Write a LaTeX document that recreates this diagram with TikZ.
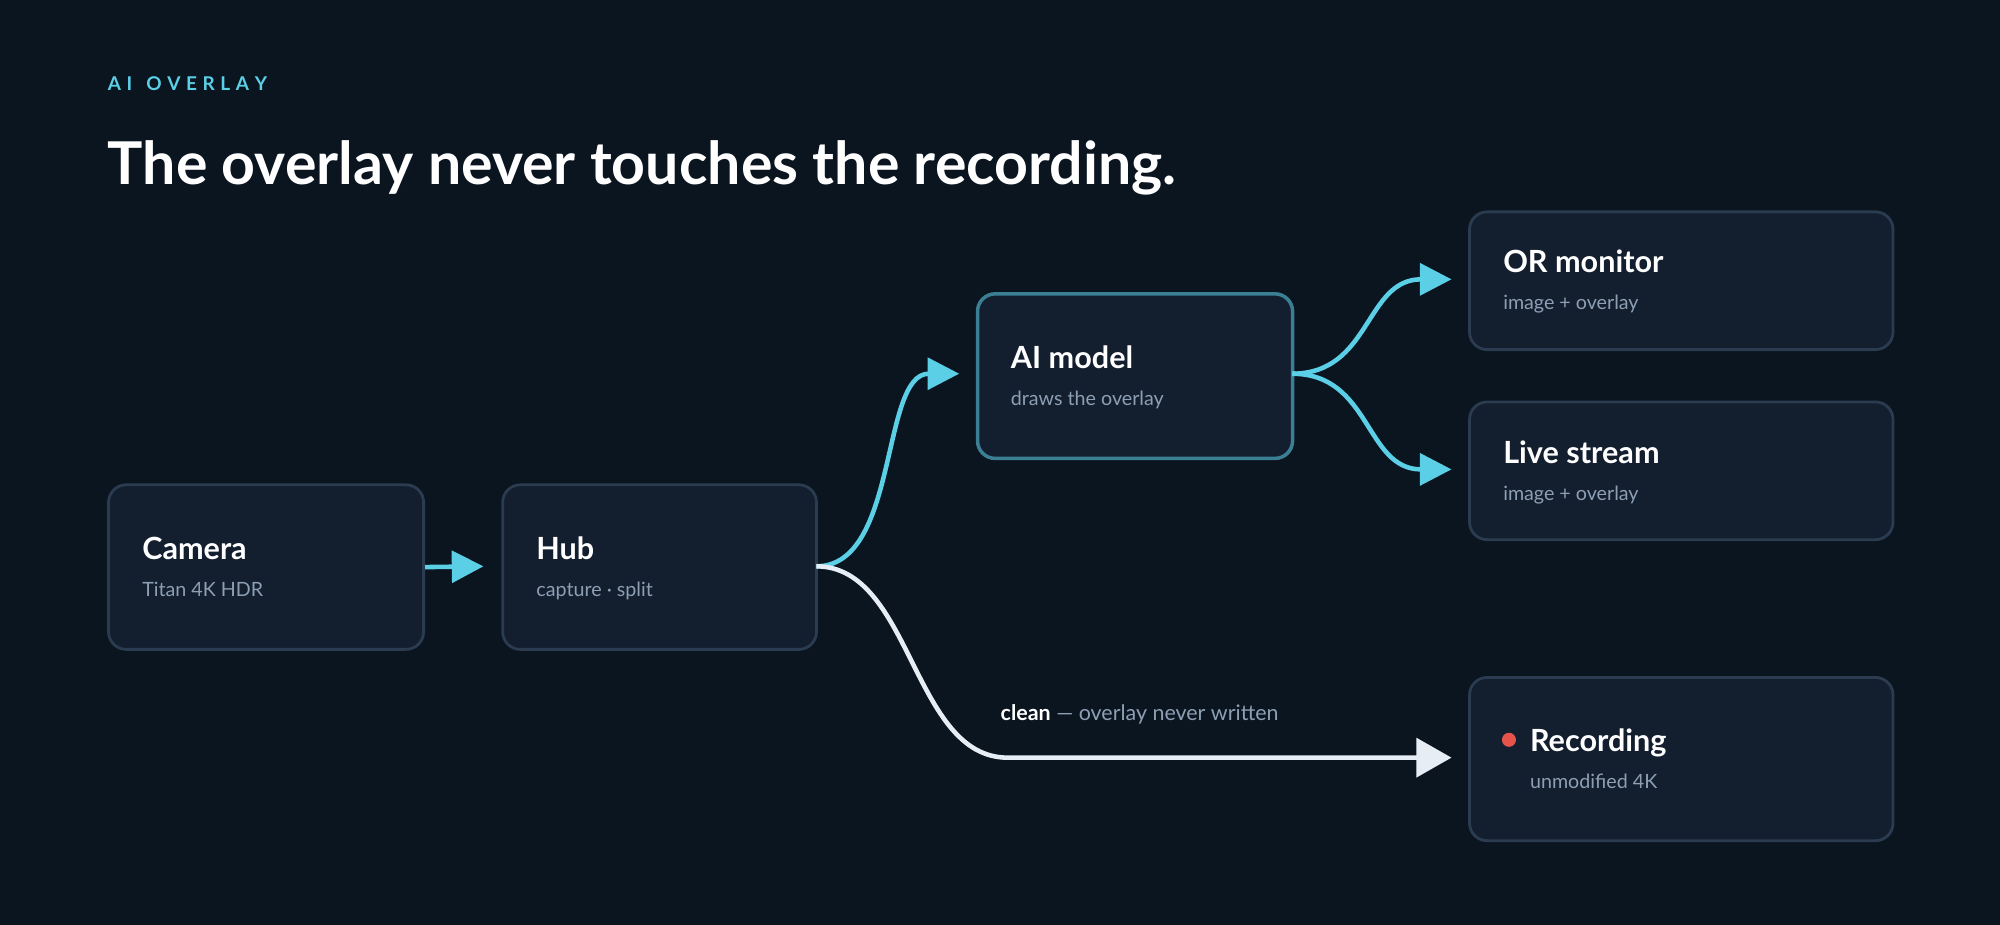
\documentclass[tikz,border=0pt]{standalone}
\usepackage{fontspec}
\setmainfont{Lato}
\usetikzlibrary{arrows.meta}
\definecolor{bgc}{HTML}{0B1520}
\definecolor{boxc}{HTML}{131E2F}
\definecolor{linec}{HTML}{2B3B50}
\definecolor{cyanc}{HTML}{5BCFE6}
\definecolor{subc}{HTML}{8E9FB4}
\definecolor{whitec}{HTML}{E6EDF5}
\definecolor{redc}{HTML}{E5534B}
\tikzset{
  card/.style={draw=linec,fill=boxc,line width=0.8pt,rounded corners=5pt,anchor=north west},
  head/.style={anchor=base west,text=white,font=\bfseries\fontsize{8.7pt}{10pt}\selectfont,inner sep=0},
  sub/.style={anchor=base west,text=subc,font=\fontsize{5.6pt}{7pt}\selectfont,inner sep=0},
  flow/.style={cyanc,line width=1.3pt,-{Triangle[length=9pt,width=9pt]}},
  clean/.style={whitec,line width=1.3pt,-{Triangle[length=10pt,width=11pt]}}
}
\newcommand{\cardbox}[7]{% name, x, y, w, h, title, subtitle
  \node[card,minimum width=#4*0.012755cm,minimum height=#5*0.012755cm] (#1) at (#2,#3) {};
  \node[head] (#1-t) at (#2+27,#3+#5/2-5) {#6};
  \node[sub] (#1-s) at (#2+27,#3+#5/2+24) {#7};
}
\begin{document}
\begin{tikzpicture}[x=0.012755cm,y=-0.012755cm]
\fill[bgc] (0,0) rectangle (1568,725);

% Heading
\node[anchor=base west,inner sep=0,text=cyanc,font=\bfseries\fontsize{5.4pt}{6pt}\selectfont] (kicker) at (84,71) {A\hspace{1.6pt}I\hspace{4pt}O\hspace{1.6pt}V\hspace{1.6pt}E\hspace{1.6pt}R\hspace{1.6pt}L\hspace{1.6pt}A\hspace{1.6pt}Y};
\node[anchor=base west,inner sep=0,text=white,font=\bfseries\fontsize{16.8pt}{20pt}\selectfont] (title) at (84,145) {The overlay never touches the recording.};

% Cards
\cardbox{camera}{84}{379}{247}{129}{Camera}{Titan 4K HDR}
\cardbox{hub}{393}{379}{246}{129}{Hub}{capture · split}
\node[card,draw=cyanc!55!boxc,line width=1pt,minimum width=247*0.012755cm,minimum height=129*0.012755cm] (ai) at (765,229) {};
\node[head] (ai-t) at (792,289) {AI model};
\node[sub] (ai-s) at (792,318) {draws the overlay};
\cardbox{monitor}{1151}{165}{332}{108}{OR monitor}{image + overlay}
\cardbox{stream}{1151}{314}{332}{108}{Live stream}{image + overlay}
\node[card,minimum width=332*0.012755cm,minimum height=128*0.012755cm] (rec) at (1151,530) {};
\node[head] (rec-t) at (1199,589) {Recording};
\node[sub] (rec-s) at (1199,618) {unmodified 4K};
\fill[redc] (1183,580) circle (5.5);

% Connectors
\coordinate (hubout) at (640,444);
\coordinate (aiout) at (1013,293);
\draw[flow] (camera.east) -- (379,444);
\draw[flow] (hubout) .. controls (705,444) and (690,293) .. (752,293);
\draw[flow] (aiout) .. controls (1075,293) and (1070,219) .. (1138,219);
\draw[flow] (aiout) .. controls (1075,293) and (1070,368) .. (1138,368);
\draw[clean] (hubout) .. controls (715,444) and (715,594) .. (790,594) -- (1138,594);
\node[anchor=base west,inner sep=0,text=subc,font=\fontsize{6.1pt}{7pt}\selectfont] (cleanlbl) at (784,565) {\textcolor{white}{\bfseries clean} — overlay never written};
\end{tikzpicture}
\end{document}
